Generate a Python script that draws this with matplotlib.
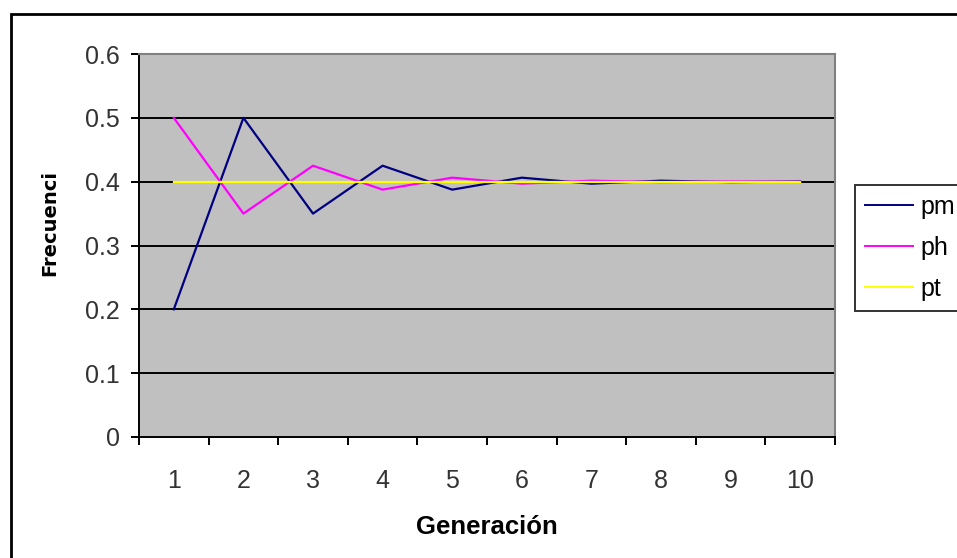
import matplotlib.pyplot as plt
import matplotlib.patches as patches
import numpy as np

plt.rcParams['font.family'] = ['Liberation Sans', 'DejaVu Sans']

generacion = [1, 2, 3, 4, 5, 6, 7, 8, 9, 10]
pm = [0.2, 0.5, 0.35, 0.425, 0.3875, 0.40625, 0.396875, 0.4015625, 0.3992188, 0.4003906]
ph = [0.5, 0.35, 0.425, 0.3875, 0.40625, 0.396875, 0.4015625, 0.3992188, 0.4003906, 0.3998047]
pt = [0.4, 0.4, 0.4, 0.4, 0.4, 0.4, 0.4, 0.4, 0.4, 0.4]

W, H = 957, 558
fig = plt.figure(figsize=(W/100, H/100), dpi=100)
ax = fig.add_axes([139/W, 1-437/H, 696/W, 383/H])

# outer chart border
fig.patches.append(patches.Rectangle((11/W, -0.1), 1.2, 1-14/H+0.1, transform=fig.transFigure,
                                     fill=False, edgecolor='black', linewidth=2, clip_on=False))

ax.set_facecolor('#c0c0c0')
x = np.arange(len(generacion))
ax.plot(x, pm, color='#000080', linewidth=1.6, label='pm')
ax.plot(x, ph, color='#ff00ff', linewidth=1.6, label='ph')
ax.plot(x, pt, color='#ffff00', linewidth=1.6, label='pt')

ax.set_xlim(-0.5, len(generacion) - 0.5)
ax.set_ylim(0, 0.6)
ax.set_yticks(np.arange(0, 0.61, 0.1))
ax.set_yticklabels(['0', '0.1', '0.2', '0.3', '0.4', '0.5', '0.6'])
for yv in np.arange(0.1, 0.51, 0.1):
    ax.axhline(yv, color='black', linewidth=1.4, zorder=0.5)

ax.set_xticks(x)
ax.set_xticklabels([str(g) for g in generacion])
ax.set_xticks(np.arange(-0.5, len(generacion), 1), minor=True)
ax.tick_params(axis='x', which='major', length=0, pad=23, labelsize=18, labelcolor='#333333')
ax.tick_params(axis='x', which='minor', length=6, width=1.4, direction='out')
ax.tick_params(axis='y', length=6, width=1.4, direction='out', pad=8, labelsize=18, labelcolor='#333333')

for s in ['top', 'right']:
    ax.spines[s].set_color('#808080')
    ax.spines[s].set_linewidth(1.5)
for s in ['left', 'bottom']:
    ax.spines[s].set_color('black')
    ax.spines[s].set_linewidth(1.4)

fig.text(487/W, 1-527/H, 'Generación', fontsize=18.5, fontweight='bold', ha='center', va='center')
fig.text(50/W, 1-223/H, 'Frecuenci', fontsize=14, fontweight='bold', ha='center', va='center',
         rotation=90, family='DejaVu Sans')

leg = ax.legend(loc='upper left', bbox_to_anchor=(855/W, 1-185/H), bbox_transform=fig.transFigure,
                frameon=True, fancybox=False, fontsize=18, handlelength=1.9, handletextpad=0.3,
                labelspacing=0.68, borderpad=0.4, borderaxespad=0)
leg.get_frame().set_edgecolor('black')
leg.get_frame().set_linewidth(1.4)
for line in leg.get_lines():
    line.set_linewidth(1.4)

fig.savefig('out.png', dpi=100)
